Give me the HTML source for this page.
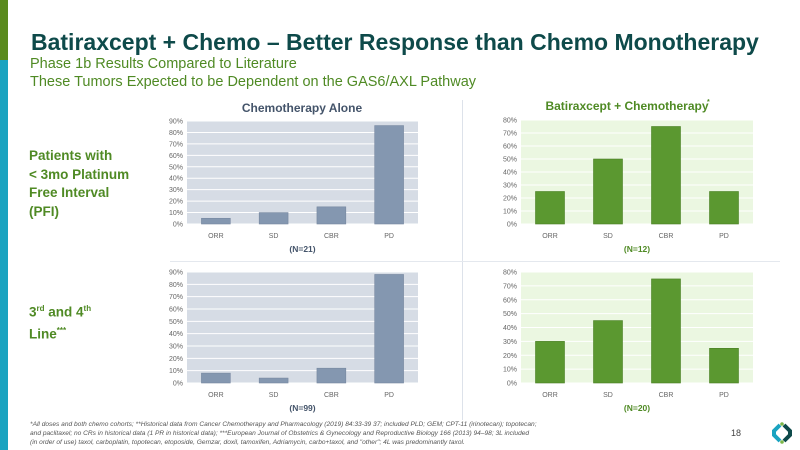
<!DOCTYPE html>
<html><head><meta charset="utf-8"><style>
body{margin:0;width:800px;height:450px;overflow:hidden;background:#fff;font-family:"Liberation Sans",sans-serif;position:relative}
.abs{position:absolute}
</style></head><body>
<div class="abs" style="left:0;top:0;width:8px;height:60px;background:#5a8a1e"></div>
<div class="abs" style="left:0;top:60px;width:8px;height:390px;background:#1aa3c0"></div>
<div class="abs" style="left:31px;top:29px;font-size:23px;font-weight:bold;color:#0e4a4a;white-space:nowrap">Batiraxcept + Chemo – Better Response than Chemo Monotherapy</div>
<div class="abs" style="left:30px;top:55px;font-size:14.5px;color:#4f8a24;line-height:18px;white-space:nowrap">Phase 1b Results Compared to Literature<br>These Tumors Expected to be Dependent on the GAS6/AXL Pathway</div>
<div class="abs" style="left:29px;top:147px;font-size:13.5px;font-weight:bold;color:#4f8a24;line-height:18.5px">Patients with<br>&lt; 3mo Platinum<br>Free Interval<br>(PFI)</div>
<div class="abs" style="left:29px;top:300px;font-size:13.5px;font-weight:bold;color:#4f8a24;line-height:18.5px">3<sup style="font-size:8px">rd</sup> and 4<sup style="font-size:8px">th</sup><br>Line<sup style="font-size:8px">***</sup></div>
<div class="abs" style="left:462px;top:100px;width:1px;height:320px;background:#dde2ea"></div>
<div class="abs" style="left:170px;top:261px;width:610px;height:1px;background:#e4e8ee"></div>
<svg class="abs" style="left:0;top:0" width="800" height="450" id="charts"></svg>
<div class="abs" style="left:30px;top:421px;font-size:6.6px;font-style:italic;color:#555;line-height:8.8px;white-space:nowrap">*All doses and both chemo cohorts; **Historical data from Cancer Chemotherapy and Pharmacology (2019) 84:33-39 37; included PLD; GEM; CPT-11 (irinotecan); topotecan;<br>and paclitaxel; no CRs in historical data (1 PR in historical data); ***European Journal of Obstetrics &amp; Gynecology and Reproductive Biology 166 (2013) 94–98; 3L included<br>(in order of use) taxol, carboplatin, topotecan, etoposide, Gemzar, doxil, tamoxifen, Adriamycin, carbo+taxol, and "other"; 4L was predominantly taxol.</div>
<div class="abs" style="left:731px;top:428px;font-size:9px;color:#444">18</div>
<svg class="abs" style="left:771px;top:422px" width="22" height="22" viewBox="0 0 22 22">
<path d="M9 3 L3 9 L3 13 L9 19" stroke="#1aa3c0" stroke-width="4" fill="none"/>
<path d="M13 3 L19 9 L19 13 L13 19" stroke="#0e4a4a" stroke-width="4" fill="none"/>
<circle cx="11" cy="2" r="1.8" fill="#7ab648"/><circle cx="11" cy="20" r="1.8" fill="#7ab648"/>
</svg>
<script>
const categories=["ORR","SD","CBR","PD"];
const chemoPfiValues=[5,10,15,86];
const comboPfiValues=[25,50,75,25];
const chemoLineValues=[8,4,12,88];
const comboLineValues=[30,45,75,25];
const chemoTicks=[0,10,20,30,40,50,60,70,80,90];
const comboTicks=[0,10,20,30,40,50,60,70,80];
const NS="http://www.w3.org/2000/svg";
const svg=document.getElementById('charts');
function mk(tag,attrs,parent){const e=document.createElementNS(NS,tag);for(const k in attrs)e.setAttribute(k,attrs[k]);(parent||svg).appendChild(e);return e;}
function chart(id,x0,x1,yTop,yBot,ticks,vals,bg,barCol,barStroke,nLabel,nCol){
  const g=mk('g',{});
  
  
  const max=ticks[ticks.length-1];
  const y=v=>yBot-(v/max)*(yBot-yTop);
  const band=(x1-x0)/categories.length;
  const xc=i=>x0+band*(i+0.5);
  const bg_=mk('rect',{x:x0,y:yTop,width:x1-x0,height:yBot-yTop,fill:bg},g);
  
  
  ticks.forEach(t=>{
    const l=mk('line',{x1:x0,x2:x1,y1:y(t),y2:y(t),stroke:'#fff','stroke-width':1},g);
    
    
    const tx=mk('text',{x:x0-4,y:y(t)+2.5,'text-anchor':'end','font-size':7,fill:'#666'},g);
    tx.textContent=t+'%';
    
    
  });
  vals.forEach((v,i)=>{
    const bw=band*0.5;
    const r=mk('rect',{x:xc(i)-bw/2,y:y(v),width:bw,height:yBot-y(v),fill:barCol,stroke:barStroke,'stroke-width':0.6},g);
    
    
    const tx=mk('text',{x:xc(i),y:yBot+14,'text-anchor':'middle','font-size':7,fill:'#666'},g);
    tx.textContent=categories[i];
    
    
  });
  const n=mk('text',{x:(x0+x1)/2,y:yBot+28,'text-anchor':'middle','font-size':8.5,'font-weight':'bold',fill:nCol},g);
  n.textContent=nLabel;
  
  
}
const grey='#d6dce5',greyBar='#8497b0',green='#ebf7e1',greenBar='#5b9830';
chart('chemo-pfi-chart',187,418,121,224,chemoTicks,chemoPfiValues,grey,greyBar,'#7788a0','(N=21)','#44546a');
chart('combo-pfi-chart',521,753,120,224,comboTicks,comboPfiValues,green,greenBar,'#4a7f24','(N=12)','#4f8a24');
chart('chemo-line-chart',187,418,272,383,chemoTicks,chemoLineValues,grey,greyBar,'#7788a0','(N=99)','#44546a');
chart('combo-line-chart',521,753,272,383,comboTicks,comboLineValues,green,greenBar,'#4a7f24','(N=20)','#4f8a24');
const t1=mk('text',{x:302,y:112,'text-anchor':'middle','font-size':12,'font-weight':'bold',fill:'#44546a'});
t1.textContent='Chemotherapy  Alone';


const t2=mk('text',{x:627,y:110,'text-anchor':'middle','font-size':12,'font-weight':'bold',fill:'#4f8a24'});
t2.textContent='Batiraxcept + Chemotherapy';


const t3=mk('text',{x:707,y:104,'font-size':7,'font-weight':'bold',fill:'#4f8a24'});
t3.textContent='*';


</script>
</body></html>
